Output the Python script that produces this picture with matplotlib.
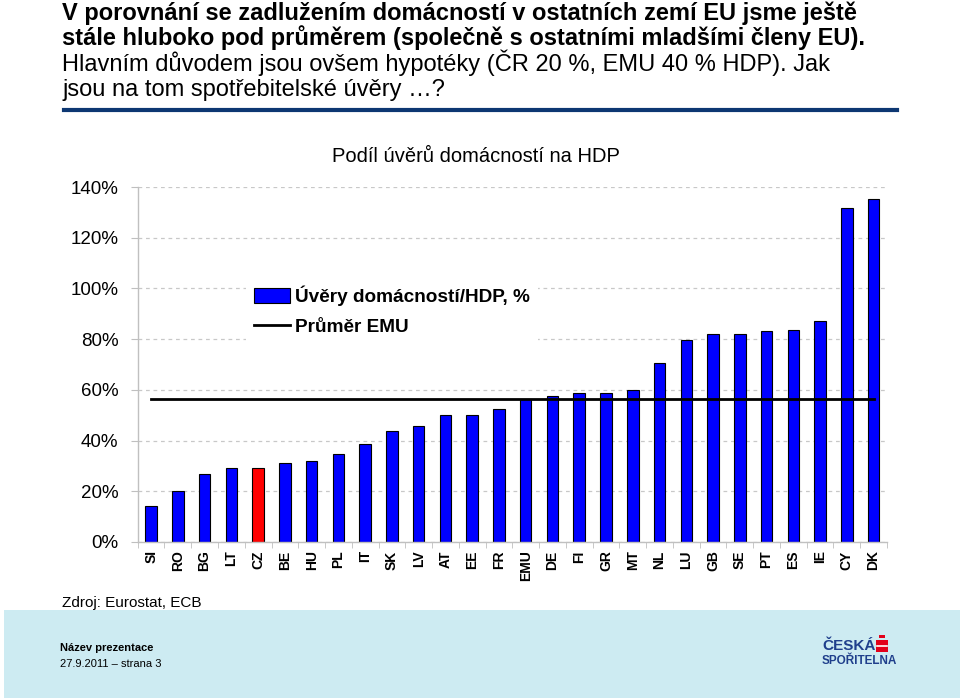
import matplotlib
matplotlib.use("Agg")
import matplotlib.pyplot as plt
from matplotlib.patches import Patch, Rectangle
from matplotlib.lines import Line2D
import numpy as np


# data
countries = ["SI", "RO", "BG", "LT", "CZ", "BE", "HU", "PL", "IT", "SK",
             "LV", "AT", "EE", "FR", "EMU", "DE", "FI", "GR", "MT", "NL",
             "LU", "GB", "SE", "PT", "ES", "IE", "CY", "DK"]
loans_gdp = [14.3, 20.0, 27.0, 29.0, 29.0, 31.3, 32.0, 34.7, 38.5, 43.8,
             45.7, 50.0, 50.0, 52.4, 56.5, 57.5, 58.6, 58.6, 60.0, 70.5,
             79.5, 82.0, 82.0, 83.3, 83.8, 87.0, 131.8, 135.2]
emu_avg = 56.5
highlight = "CZ"
y_ticks = [0, 20, 40, 60, 80, 100, 120, 140]
y_labels = ["0%", "20%", "40%", "60%", "80%", "100%", "120%", "140%"]

title_lines = [
    "V porovnání se zadlužením domácností v ostatních zemí EU jsme ještě",
    "stále hluboko pod průměrem (společně s ostatními mladšími členy EU).",
    "Hlavním důvodem jsou ovšem hypotéky (ČR 20 %, EMU 40 % HDP). Jak",
    "jsou na tom spotřebitelské úvěry …?",
]

plt.rcParams["font.family"] = ["Liberation Sans", "DejaVu Sans"]

W, H = 960, 698
fig = plt.figure(figsize=(W / 100, H / 100), dpi=100)


def fx(px):
    return px / W


def fy(py):
    return 1 - py / H


# heading
for i, line in enumerate(title_lines):
    fig.text(fx(62), fy(20 + 25.3 * i), line, fontsize=17,
             fontweight="bold" if i < 2 else "normal", va="baseline", ha="left")
fig.add_artist(Line2D([fx(64), fx(897)], [fy(110), fy(110)], color="#0d3772", lw=3))

# chart
ax = fig.add_axes([fx(137.7), fy(542), fx(887) - fx(137.7), fy(187) - fy(542)])
x = np.arange(len(countries))
colors = ["#ff0000" if c == highlight else "#0000ff" for c in countries]
ax.bar(x, loans_gdp, width=0.43, color=colors, edgecolor="black", linewidth=0.8, zorder=2)
ax.plot(x, [emu_avg] * len(x), color="black", lw=2, zorder=3, solid_capstyle="projecting")

ax.set_xlim(-0.5, len(countries) - 0.5)
ax.set_ylim(0, 140)
ax.set_yticks(y_ticks)
ax.set_yticklabels(y_labels, fontsize=13.5)
ax.set_xticks(x)
ax.set_xticklabels(countries, rotation=90, fontsize=10, fontweight="bold")
ax.set_xticks(np.arange(len(countries) + 1) - 0.5, minor=True)
ax.tick_params(axis="x", which="major", length=0, pad=6)
ax.tick_params(axis="x", which="minor", length=4, color="#bfbfbf")
ax.tick_params(axis="y", length=5, color="#bfbfbf", pad=9)
ax.yaxis.grid(True, linestyle=(0, (3, 3)), color="#c8c8c8", lw=0.9, zorder=0)
for s in ["top", "right"]:
    ax.spines[s].set_visible(False)
for s in ["left", "bottom"]:
    ax.spines[s].set_color("#c0c0c0")
    ax.spines[s].set_linewidth(1)

handles = [Patch(facecolor="#0000ff", edgecolor="black", linewidth=0.8),
           Line2D([], [], color="black", lw=2)]
leg = ax.legend(handles, ["Úvěry domácností/HDP, %", "Průměr EMU"],
                loc="upper left", bbox_to_anchor=(fx(246), fy(278)),
                bbox_transform=fig.transFigure, frameon=True,
                prop={"size": 13.7, "weight": "bold"},
                facecolor="white", edgecolor="none", framealpha=1, fancybox=False,
                handlelength=1.9, handleheight=0.8, handletextpad=0.3,
                labelspacing=0.62, borderaxespad=0)

fig.text(fx(476), fy(156), "Podíl úvěrů domácností na HDP", fontsize=14.5,
         ha="center", va="center")
fig.text(fx(62), fy(603), "Zdroj: Eurostat, ECB", fontsize=11, ha="left", va="center")

# footer band
fig.add_artist(Rectangle((fx(4), 0), 1 - fx(4), fy(610), transform=fig.transFigure,
                         facecolor="#cdebf2", edgecolor="none", zorder=0))
fig.text(fx(60), fy(648), "Název prezentace", fontsize=8, fontweight="bold", va="center")
fig.text(fx(60), fy(664), "27.9.2011 – strana 3", fontsize=8, va="center")
fig.text(fx(822), fy(646), "ČESKÁ", fontsize=11, fontweight="bold", color="#1f3f8c",
         va="center")
fig.text(fx(822), fy(661), "SPOŘITELNA", fontsize=8.5, fontweight="bold", color="#1f3f8c",
         va="center")
fig.add_artist(Rectangle((fx(876), fy(652)), fx(12), fy(640) - fy(652),
                         transform=fig.transFigure, facecolor="#e2001a", edgecolor="none"))
fig.add_artist(Rectangle((fx(879), fy(638)), fx(6), fy(635) - fy(638),
                         transform=fig.transFigure, facecolor="#e2001a", edgecolor="none"))
fig.add_artist(Line2D([fx(877), fx(887)], [fy(646), fy(646)], color="white", lw=1.2))

fig.savefig("out.png", dpi=100)
